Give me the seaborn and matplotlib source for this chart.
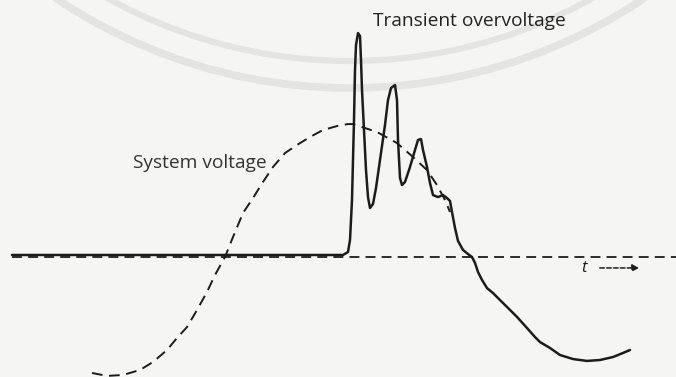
import matplotlib
matplotlib.use("Agg")
import matplotlib.pyplot as plt
from matplotlib.patches import Circle
import seaborn as sns
import pandas as pd

# Phase angle of the power-frequency cycle (degrees) and voltage (per unit)
system_t = [-99.75, -88.5, -76.5, -63.75, -54.0, -43.5, -36.0, -28.5, -21.0, -13.5,
            -7.5, 0.0, 6.0, 13.5, 21.0, 28.5, 36.0, 45.0, 54.0, 63.75,
            73.5, 84.0, 92.25, 96.0, 114.0, 129.0, 141.0, 151.5, 159.0, 165.0,
            168.75]
system_v = [-0.859, -0.881, -0.874, -0.837, -0.778, -0.689, -0.600, -0.519, -0.393, -0.259,
            -0.133, 0.0, 0.148, 0.326, 0.437, 0.556, 0.667, 0.770, 0.830, 0.889,
            0.941, 0.970, 0.985, 0.985, 0.926, 0.844, 0.741, 0.644, 0.533, 0.422,
            0.333]

transient_t = [-159.75, 88.5, 92.25, 93.75, 95.25, 96.75, 97.5, 98.25, 99.75, 101.25,
               102.0, 102.75, 104.25, 105.75, 107.25, 108.75, 111.0, 113.25, 116.25, 120.0,
               122.25, 124.5, 127.5, 129.0, 129.75, 131.25, 132.75, 135.0, 138.75, 142.5,
               144.75, 147.0, 148.5, 151.5, 153.75, 156.0, 159.75, 163.5, 166.5, 168.75,
               170.25, 172.5, 174.75, 178.5, 182.25, 185.25, 187.5, 189.75, 192.75, 196.5,
               201.0, 206.25, 211.5, 219.0, 226.5, 232.5, 236.25, 243.75, 251.25, 261.0,
               271.5, 281.25, 291.0, 298.5, 303.75]
transient_v = [0.015, 0.015, 0.037, 0.126, 0.422, 1.015, 1.385, 1.570, 1.659, 1.637,
               1.459, 1.237, 0.941, 0.644, 0.444, 0.363, 0.393, 0.511, 0.719, 0.978,
               1.163, 1.252, 1.274, 1.163, 0.867, 0.585, 0.533, 0.556, 0.667, 0.793,
               0.867, 0.874, 0.793, 0.667, 0.548, 0.459, 0.444, 0.459, 0.437, 0.415,
               0.333, 0.215, 0.119, 0.052, 0.022, 0.0, -0.044, -0.111, -0.170, -0.230,
               -0.267, -0.319, -0.370, -0.444, -0.526, -0.593, -0.630, -0.674, -0.726, -0.756,
               -0.770, -0.763, -0.741, -0.711, -0.689]

zero_t = [-159.75, 338.25]
zero_v = [0.0, 0.0]

label_transient = "Transient overvoltage"
label_system = "System voltage"
label_time = "t"

ink = "#1c1c1c"
paper = "#f5f5f4"
stamp = "#e4e4e3"

sns.set_style("white")
plt.rcParams["font.family"] = ["Open Sans", "DejaVu Sans"]

fig = plt.figure(figsize=(6.76, 3.77), dpi=100, facecolor=paper)
ax = fig.add_axes([0, 0, 1, 1])
ax.set_facecolor(paper)

# faint circular stamp rings on the page, behind the drawing (display pixels)
for radius, width in [(527, 5.5), (500, 4.5)]:
    ax.add_patch(Circle((350, 816), radius, transform=None, fill=False,
                        edgecolor=stamp, lw=width, zorder=0))

system_df = pd.DataFrame({"t": system_t, "v": system_v})
transient_df = pd.DataFrame({"t": transient_t, "v": transient_v})
zero_df = pd.DataFrame({"t": zero_t, "v": zero_v})

dash = (0, (5.5, 3.4))
sns.lineplot(data=zero_df, x="t", y="v", ax=ax, color=ink, lw=1.3,
             linestyle=dash, sort=False, estimator=None)
sns.lineplot(data=system_df, x="t", y="v", ax=ax, color=ink, lw=1.4,
             linestyle=dash, sort=False, estimator=None)
sns.lineplot(data=transient_df, x="t", y="v", ax=ax, color=ink, lw=1.8,
             sort=False, estimator=None)
for ln in ax.get_lines():
    ln.set_solid_joinstyle("round")
    ln.set_dash_joinstyle("round")
    ln.set_zorder(3)

ax.text(111.0, 1.75, label_transient, fontsize=13.8, color="#222222",
        ha="left", va="center", zorder=4)
ax.text(-69.0, 0.70, label_system, fontsize=13.8, color="#333333",
        ha="left", va="center", zorder=4)
ax.text(269.25, -0.08, label_time, fontsize=12, style="italic", color=ink,
        ha="center", va="center", zorder=4)
ax.annotate("", xy=(312.75, -0.081), xytext=(279.0, -0.081),
            arrowprops=dict(arrowstyle="-|>", color=ink, lw=1.1,
                            linestyle=(0, (3, 1.5)), mutation_scale=10), zorder=4)

ax.set_xlim(-168.75, 338.25)
ax.set_ylim(-0.889, 1.904)
ax.set_axis_off()

fig.savefig("out.png", dpi=100, facecolor=paper)
